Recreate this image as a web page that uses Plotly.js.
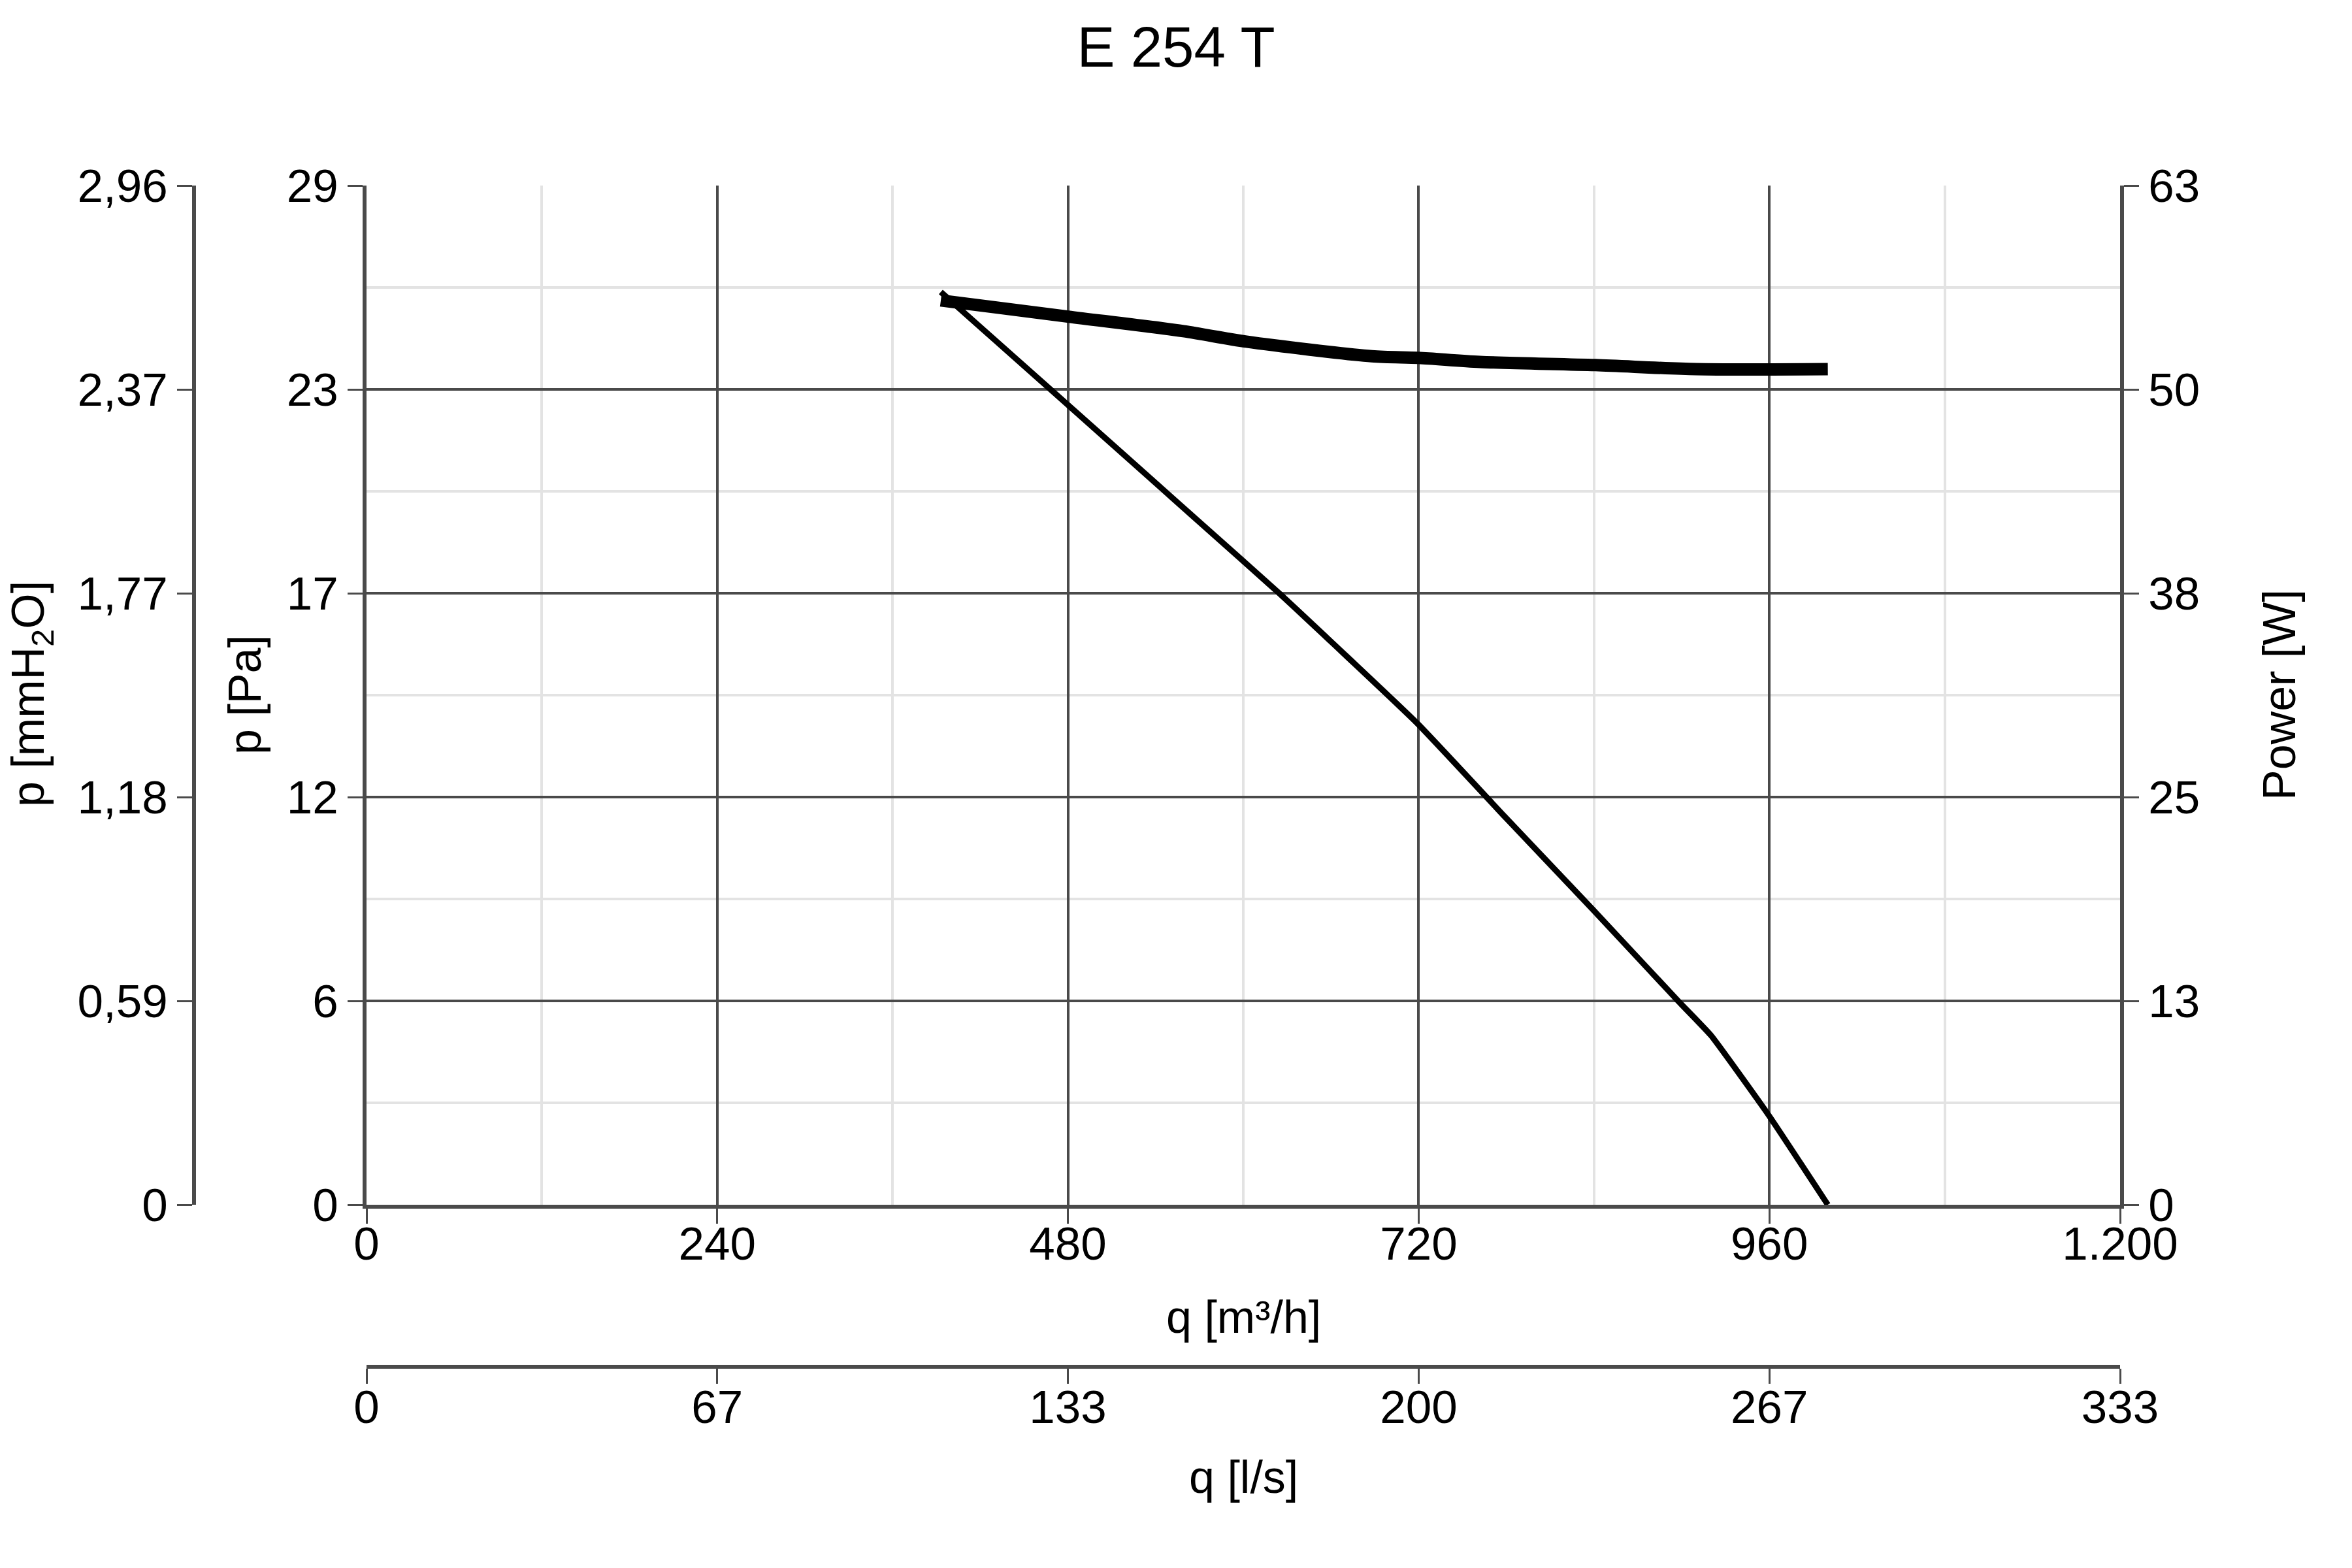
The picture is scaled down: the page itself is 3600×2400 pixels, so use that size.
<!DOCTYPE html>
<html>
<head>
<meta charset="utf-8">
<script src="https://cdn.plot.ly/plotly-3.0.1.min.js"></script>
<style>
html,body{margin:0;padding:0;background:#ffffff;}
#chart{width:3600px;height:2400px;}
</style>
</head>
<body>
<div id="chart"></div>
<script>
// ---- data ----
const pressureFlow = [393, 470, 569, 624, 719, 779, 839, 898, 920, 960, 1000];     // q [m3/h]
const pressurePa   = [25.97, 23.13, 19.46, 17.42, 13.70, 11.04, 8.41, 5.78, 4.82, 2.52, 0]; // p [Pa]

const powerFlow = [393, 480, 559, 602, 688, 720, 762, 841, 910, 1000];              // q [m3/h]
const powerW    = [55.9, 54.9, 54.0, 53.35, 52.45, 52.35, 52.1, 51.9, 51.65, 51.65]; // Power [W]

const flowTickVals = [0, 240, 480, 720, 960, 1200];
const flowTickText = ['0', '240', '480', '720', '960', '1.200'];
const lsTickVals   = [0, 66.667, 133.333, 200, 266.667, 333.333];
const lsTickText   = ['0', '67', '133', '200', '267', '333'];
const paTickVals   = [0, 5.8, 11.6, 17.4, 23.2, 29];
const paTickText   = ['0', '6', '12', '17', '23', '29'];
const mmTickVals   = [0, 0.592, 1.184, 1.776, 2.368, 2.96];
const mmTickText   = ['0', '0,59', '1,18', '1,77', '2,37', '2,96'];
const wTickVals    = [0, 12.6, 25.2, 37.8, 50.4, 63];
const wTickText    = ['0', '13', '25', '38', '50', '63'];

// ---- styling ----
const FONT = 'Liberation Sans, Arial, Helvetica, sans-serif';
const AXC = '#4a4a4a';
const GRID = '#4a4a4a';
const MINOR = '#e3e3e3';
const TF = {family: FONT, size: 71, color: '#000'};

const W = 3600, H = 2400;
const px = v => v / W;
const py = v => 1 - v / H;

const traces = [
  {
    x: pressureFlow, y: pressurePa, xaxis: 'x', yaxis: 'y',
    type: 'scatter', mode: 'lines', line: {color: '#000', width: 9, shape: 'spline', smoothing: 0.4},
    hoverinfo: 'skip', showlegend: false
  },
  {
    x: powerFlow, y: powerW, xaxis: 'x', yaxis: 'y2',
    type: 'scatter', mode: 'lines', line: {color: '#000', width: 19, shape: 'spline', smoothing: 0.8},
    hoverinfo: 'skip', showlegend: false
  },
  // empty helper traces so that the secondary scales are attached to the plot
  { x: [], y: [], xaxis: 'x', yaxis: 'y3', type: 'scatter', mode: 'lines', hoverinfo: 'skip', showlegend: false },
  { x: [], y: [], xaxis: 'x2', yaxis: 'y', type: 'scatter', mode: 'lines', hoverinfo: 'skip', showlegend: false }
];

const common = {
  ticks: 'outside', ticklen: 23, tickwidth: 3, tickcolor: AXC,
  showline: true, linecolor: AXC, linewidth: 6,
  zeroline: false, tickfont: TF, tickmode: 'array', fixedrange: true, automargin: false
};

const layout = {
  width: W, height: H,
  paper_bgcolor: '#fff', plot_bgcolor: '#fff',
  margin: {l: 0, r: 0, t: 0, b: 0, pad: 0},
  showlegend: false,
  font: {family: FONT, color: '#000'},
  title: {
    text: 'E 254 T', x: 0.5, xanchor: 'center', y: py(72), yanchor: 'middle', yref: 'container',
    font: {family: FONT, size: 87, color: '#000'}
  },
  xaxis: Object.assign({}, common, {
    domain: [px(561), px(3245)], range: [0, 1200], anchor: 'y',
    tickvals: flowTickVals, ticktext: flowTickText, ticklabelstandoff: -30,
    showgrid: true, gridcolor: GRID, gridwidth: 4,
    minor: {tickmode: 'linear', tick0: 0, dtick: 120, showgrid: true, gridcolor: MINOR, gridwidth: 4, ticks: ''}
  }),
  xaxis2: Object.assign({}, common, {
    overlaying: 'x', anchor: 'free', position: py(2092), side: 'bottom',
    range: [0, 333.333], tickvals: lsTickVals, ticktext: lsTickText, ticklabelstandoff: -25,
    showgrid: false
  }),
  yaxis: Object.assign({}, common, {
    domain: [py(1844), py(284)], range: [0, 29], anchor: 'x', side: 'left',
    tickvals: paTickVals, ticktext: paTickText,
    showgrid: true, gridcolor: GRID, gridwidth: 4,
    minor: {tickmode: 'linear', tick0: 0, dtick: 2.9, showgrid: true, gridcolor: MINOR, gridwidth: 4, ticks: ''}
  }),
  yaxis2: Object.assign({}, common, {
    overlaying: 'y', anchor: 'x', side: 'right', range: [0, 63],
    tickvals: wTickVals, ticktext: wTickText, showgrid: false
  }),
  yaxis3: Object.assign({}, common, {
    overlaying: 'y', anchor: 'free', position: px(297), side: 'left', range: [0, 2.96],
    tickvals: mmTickVals, ticktext: mmTickText, showgrid: false
  }),
  annotations: [
    {text: 'p [mmH<sub>2</sub>O]', xref: 'paper', yref: 'paper', x: px(48), y: py(1062), textangle: -90,
     showarrow: false, xanchor: 'center', yanchor: 'middle', font: {family: FONT, size: 70, color: '#000'}},
    {text: 'p [Pa]', xref: 'paper', yref: 'paper', x: px(375), y: py(1064), textangle: -90,
     showarrow: false, xanchor: 'center', yanchor: 'middle', font: {family: FONT, size: 70, color: '#000'}},
    {text: 'Power [W]', xref: 'paper', yref: 'paper', x: px(3489), y: py(1064), textangle: -90,
     showarrow: false, xanchor: 'center', yanchor: 'middle', font: {family: FONT, size: 70, color: '#000'}},
    {text: 'q [m³/h]', xref: 'paper', yref: 'paper', x: px(1903), y: py(2016),
     showarrow: false, xanchor: 'center', yanchor: 'middle', font: {family: FONT, size: 70, color: '#000'}},
    {text: 'q [l/s]', xref: 'paper', yref: 'paper', x: px(1903), y: py(2261),
     showarrow: false, xanchor: 'center', yanchor: 'middle', font: {family: FONT, size: 70, color: '#000'}}
  ]
};

Plotly.newPlot('chart', traces, layout, {staticPlot: true, displayModeBar: false});
</script>
</body>
</html>
